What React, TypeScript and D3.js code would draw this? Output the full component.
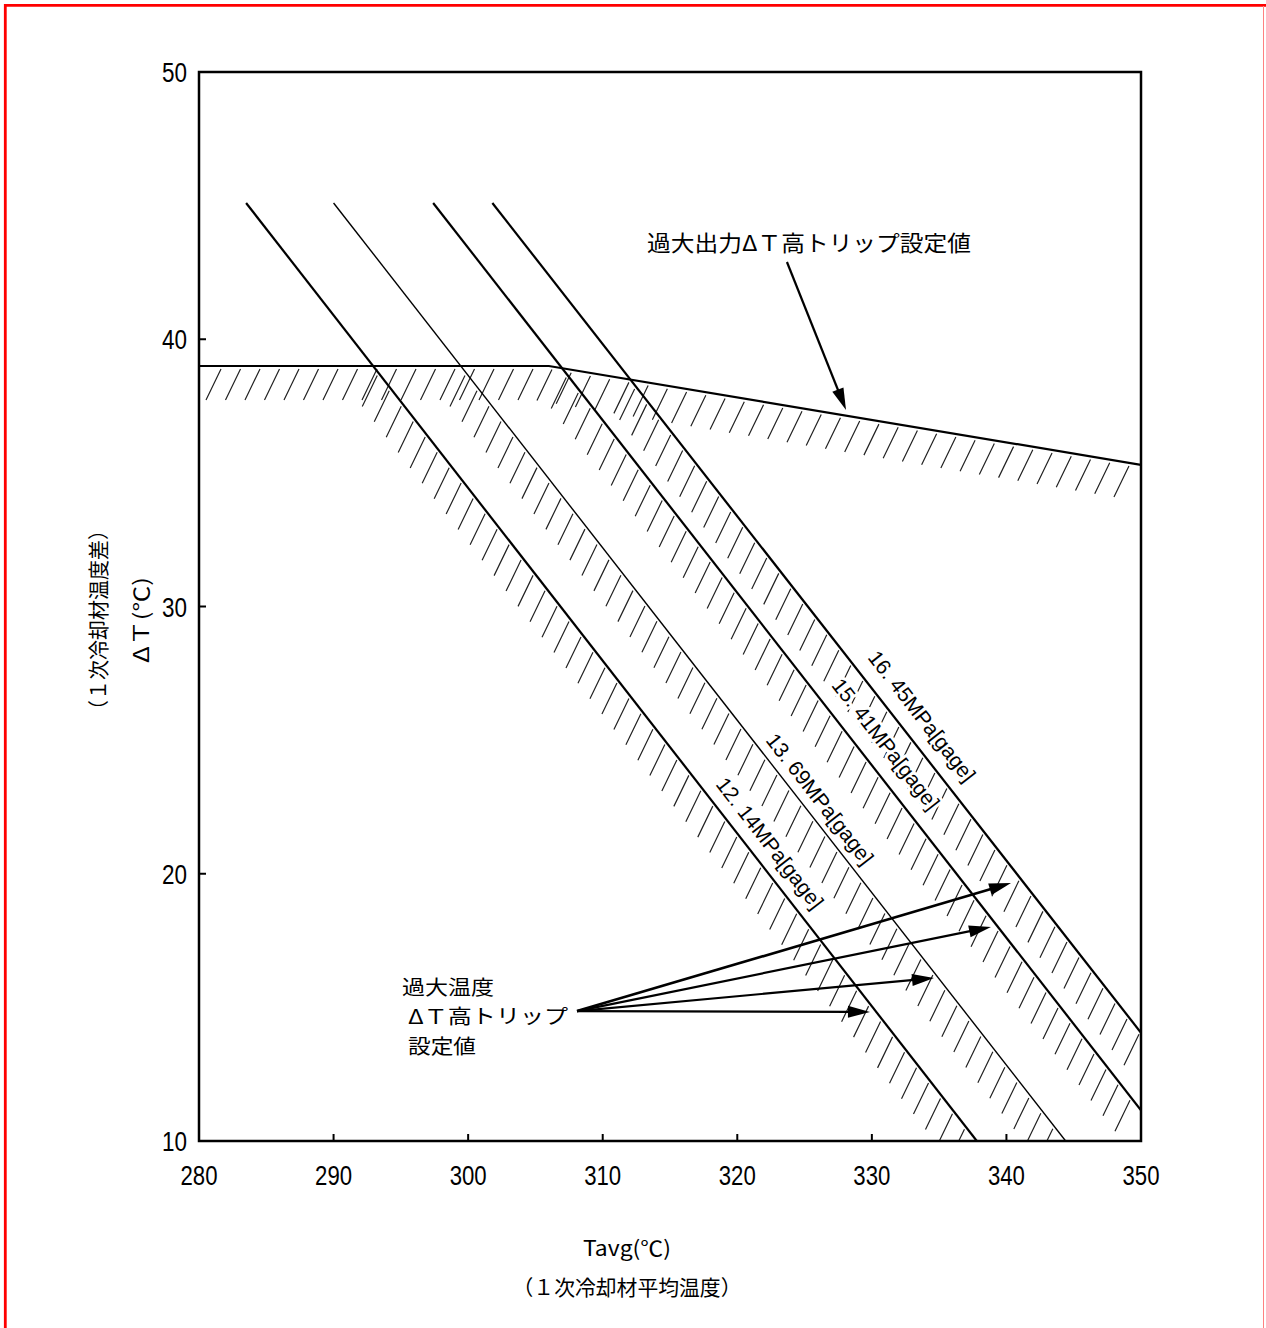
import React from "react";
import * as d3 from "d3";

// ---- data ----
const X_DOMAIN: [number, number] = [280, 350];
const Y_DOMAIN: [number, number] = [10, 50];
const X_TICKS = [280, 290, 300, 310, 320, 330, 340, 350];
const Y_TICKS = [10, 20, 30, 40, 50];

// overpower ΔT trip setpoint (Tavg, ΔT)
const OVERPOWER_LINE: [number, number][] = [
  [280, 39.0],
  [306, 39.0],
  [350, 35.3],
];

// overtemperature ΔT trip setpoint lines per pressure
const PRESSURE_LABELS = ["12. 14MPa[gage]", "13. 69MPa[gage]", "15. 41MPa[gage]", "16. 45MPa[gage]"];
const OT_LINES: [number, number][][] = [
  [[283.5, 45.1], [337.8, 10.0]],
  [[290.0, 45.1], [344.4, 10.0]],
  [[297.4, 45.1], [350.0, 11.15]],
  [[301.8, 45.1], [350.0, 14.05]],
];
const OT_WIDTHS = [2.2, 1.4, 2.2, 2.2];
const LABEL_POS: [number, number][] = [
  [322.43, 21.15],
  [326.15, 22.8],
  [331.05, 24.86],
  [333.73, 25.9],
];

// annotation arrows
const OP_ARROW: [number, number][] = [[323.69, 42.89], [328.08, 37.35]];
const OT_ARROW_ORIGIN: [number, number] = [308.09, 14.86];
const OT_ARROW_TIPS: [number, number][] = [
  [340.34, 19.65],
  [338.85, 18.01],
  [334.62, 16.1],
  [329.86, 14.83],
];

const CJK = "'Noto Sans CJK JP', 'Noto Sans', sans-serif";
const NUM = "'Liberation Sans', Arial, sans-serif";

const LEFT = 199, RIGHT = 1141, TOP = 72, BOTTOM = 1141;

export default function App() {
  const x = d3.scaleLinear().domain(X_DOMAIN).range([LEFT, RIGHT]);
  const y = d3.scaleLinear().domain(Y_DOMAIN).range([BOTTOM, TOP]);
  const line = d3.line<[number, number]>().x((d) => x(d[0])).y((d) => y(d[1]));

  const HATCH_V: [number, number] = [-15, 31];
  const STEP = 19.5;

  // hatch generator along a pixel polyline
  const hatchAlong = (pts: [number, number][], startOffset: number, gap: number) => {
    const out: string[] = [];
    let carry = startOffset;
    for (let i = 0; i < pts.length - 1; i++) {
      const [x0, y0] = pts[i];
      const [x1, y1] = pts[i + 1];
      const L = Math.hypot(x1 - x0, y1 - y0);
      const dx = (x1 - x0) / L, dy = (y1 - y0) / L;
      const nx = -dy, ny = dx;
      let t = carry;
      while (t <= L) {
        const px = x0 + dx * t + nx * gap;
        const py = y0 + dy * t + ny * gap;
        out.push(`M${px},${py}L${px + HATCH_V[0]},${py + HATCH_V[1]}`);
        t += STEP;
      }
      carry = t - L;
    }
    return out.join("");
  };

  const opPx: [number, number][] = OVERPOWER_LINE.map((d) => [x(d[0]), y(d[1])]);
  const opHatch = hatchAlong(opPx, 22, 3);

  // intersection of a segment with the overpower polyline (pixel)
  const intersect = (a: [number, number], b: [number, number]) => {
    for (let i = 0; i < opPx.length - 1; i++) {
      const c = opPx[i], d = opPx[i + 1];
      const r = [b[0] - a[0], b[1] - a[1]];
      const s = [d[0] - c[0], d[1] - c[1]];
      const den = r[0] * s[1] - r[1] * s[0];
      if (Math.abs(den) < 1e-9) continue;
      const t = ((c[0] - a[0]) * s[1] - (c[1] - a[1]) * s[0]) / den;
      const u = ((c[0] - a[0]) * r[1] - (c[1] - a[1]) * r[0]) / den;
      if (t >= 0 && t <= 1 && u >= 0 && u <= 1) return [a[0] + r[0] * t, a[1] + r[1] * t] as [number, number];
    }
    return a;
  };

  const otHatches = OT_LINES.map((ln) => {
    const a: [number, number] = [x(ln[0][0]), y(ln[0][1])];
    const b: [number, number] = [x(ln[1][0]), y(ln[1][1])];
    const p = intersect(a, b);
    return hatchAlong([p, b], 10, 2.5);
  });

  const arrow = (from: [number, number], to: [number, number], w: number, key: string) => {
    const fx = x(from[0]), fy = y(from[1]), tx = x(to[0]), ty = y(to[1]);
    const L = Math.hypot(tx - fx, ty - fy);
    const ux = (tx - fx) / L, uy = (ty - fy) / L;
    const hl = 22, hw = 6;
    const bx = tx - ux * hl, by = ty - uy * hl;
    const pts = `${tx},${ty} ${bx - uy * hw},${by + ux * hw} ${bx + uy * hw},${by - ux * hw}`;
    return (
      <g key={key}>
        <line x1={fx} y1={fy} x2={bx + ux * 2} y2={by + uy * 2} stroke="#000" strokeWidth={w} />
        <polygon points={pts} fill="#000" />
      </g>
    );
  };

  const angle = (ln: [number, number][]) => {
    const dx = x(ln[1][0]) - x(ln[0][0]);
    const dy = y(ln[1][1]) - y(ln[0][1]);
    return (Math.atan2(dy, dx) * 180) / Math.PI;
  };

  return (
    <svg
      width={1266}
      height={1328}
      style={{ position: "absolute", left: 0, top: 0, background: "#fff" }}
    >
      <rect x={0} y={0} width={1266} height={1328} fill="#fff" />
      {/* red frame */}
      <line x1={4} y1={5.3} x2={1266} y2={5.3} stroke="#ff0000" strokeWidth={2.8} />
      <line x1={5.3} y1={4} x2={5.3} y2={1328} stroke="#ff0000" strokeWidth={2.8} />
      <line x1={1263.5} y1={6} x2={1263.5} y2={1328} stroke="#ff8080" strokeWidth={1} />

      <defs>
        <clipPath id="plotClip">
          <rect x={LEFT} y={TOP} width={RIGHT - LEFT} height={BOTTOM - TOP} />
        </clipPath>
      </defs>

      {/* hatching */}
      <g clipPath="url(#plotClip)" stroke="#222" strokeWidth={1.2} fill="none">
        <path d={opHatch} />
        {otHatches.map((h, i) => (
          <path key={i} d={h} />
        ))}
      </g>

      {/* pressure labels (white halo clears hatching behind text) */}
      {PRESSURE_LABELS.map((lab, i) => (
        <text
          key={lab}
          transform={`translate(${x(LABEL_POS[i][0])},${y(LABEL_POS[i][1])}) rotate(${angle(OT_LINES[i])})`}
          textAnchor="middle"
          dominantBaseline="central"
          fontFamily={NUM}
          fontSize={21}
          textLength={160}
          lengthAdjust="spacingAndGlyphs"
          stroke="#fff"
          strokeWidth={6}
          strokeLinejoin="round"
          paintOrder="stroke"
          fill="#000"
        >
          {lab}
        </text>
      ))}

      {/* lines */}
      <g clipPath="url(#plotClip)" fill="none" stroke="#000">
        <path d={line(OVERPOWER_LINE) || ""} strokeWidth={2.2} />
        {OT_LINES.map((ln, i) => (
          <path key={i} d={line(ln) || ""} strokeWidth={OT_WIDTHS[i]} />
        ))}
      </g>

      {/* axes frame */}
      <rect x={LEFT} y={TOP} width={RIGHT - LEFT} height={BOTTOM - TOP} fill="none" stroke="#000" strokeWidth={2.5} />
      {X_TICKS.map((t) => (
        <g key={"xt" + t}>
          <line x1={x(t)} x2={x(t)} y1={BOTTOM} y2={BOTTOM - 7} stroke="#000" strokeWidth={2} />
          <text
            x={x(t)}
            y={BOTTOM + 44}
            textAnchor="middle"
            fontFamily={NUM}
            fontSize={27}
            textLength={37}
            lengthAdjust="spacingAndGlyphs"
          >
            {t}
          </text>
        </g>
      ))}
      {Y_TICKS.map((t) => (
        <g key={"yt" + t}>
          <line x1={LEFT} x2={LEFT + 7} y1={y(t)} y2={y(t)} stroke="#000" strokeWidth={2} />
          <text
            x={187}
            y={y(t) + 10}
            textAnchor="end"
            fontFamily={NUM}
            fontSize={27}
            textLength={25}
            lengthAdjust="spacingAndGlyphs"
          >
            {t}
          </text>
        </g>
      ))}

      {/* annotations */}
      <text x={647} y={251} fontFamily={CJK} fontSize={22} textLength={324} lengthAdjust="spacingAndGlyphs">
        過大出力ΔＴ高トリップ設定値
      </text>
      {arrow(OP_ARROW[0], OP_ARROW[1], 2.2, "op")}

      <text x={402} y={995} fontFamily={CJK} fontSize={20} textLength={92} lengthAdjust="spacingAndGlyphs">
        過大温度
      </text>
      <text x={408} y={1024} fontFamily={CJK} fontSize={20} textLength={160} lengthAdjust="spacingAndGlyphs">
        ΔＴ高トリップ
      </text>
      <text x={408} y={1054} fontFamily={CJK} fontSize={20} textLength={68} lengthAdjust="spacingAndGlyphs">
        設定値
      </text>
      {OT_ARROW_TIPS.map((tip, i) => arrow(OT_ARROW_ORIGIN, tip, i === 0 ? 2.6 : 2.2, "ot" + i))}

      {/* axis titles */}
      <text x={627} y={1256} textAnchor="middle" fontFamily={CJK} fontSize={21} textLength={88} lengthAdjust="spacingAndGlyphs">
        Tavg(℃)
      </text>
      <text x={627} y={1295} textAnchor="middle" fontFamily={CJK} fontSize={21} textLength={229} lengthAdjust="spacingAndGlyphs">
        （１次冷却材平均温度）
      </text>
      <text
        transform="translate(106,620) rotate(-90)"
        textAnchor="middle"
        fontFamily={CJK}
        fontSize={21}
        textLength={200}
        lengthAdjust="spacingAndGlyphs"
      >
        （１次冷却材温度差）
      </text>
      <text
        transform="translate(149,620) rotate(-90)"
        textAnchor="middle"
        fontFamily={CJK}
        fontSize={21}
        textLength={86}
        lengthAdjust="spacingAndGlyphs"
      >
        ΔＴ(℃)
      </text>
    </svg>
  );
}
